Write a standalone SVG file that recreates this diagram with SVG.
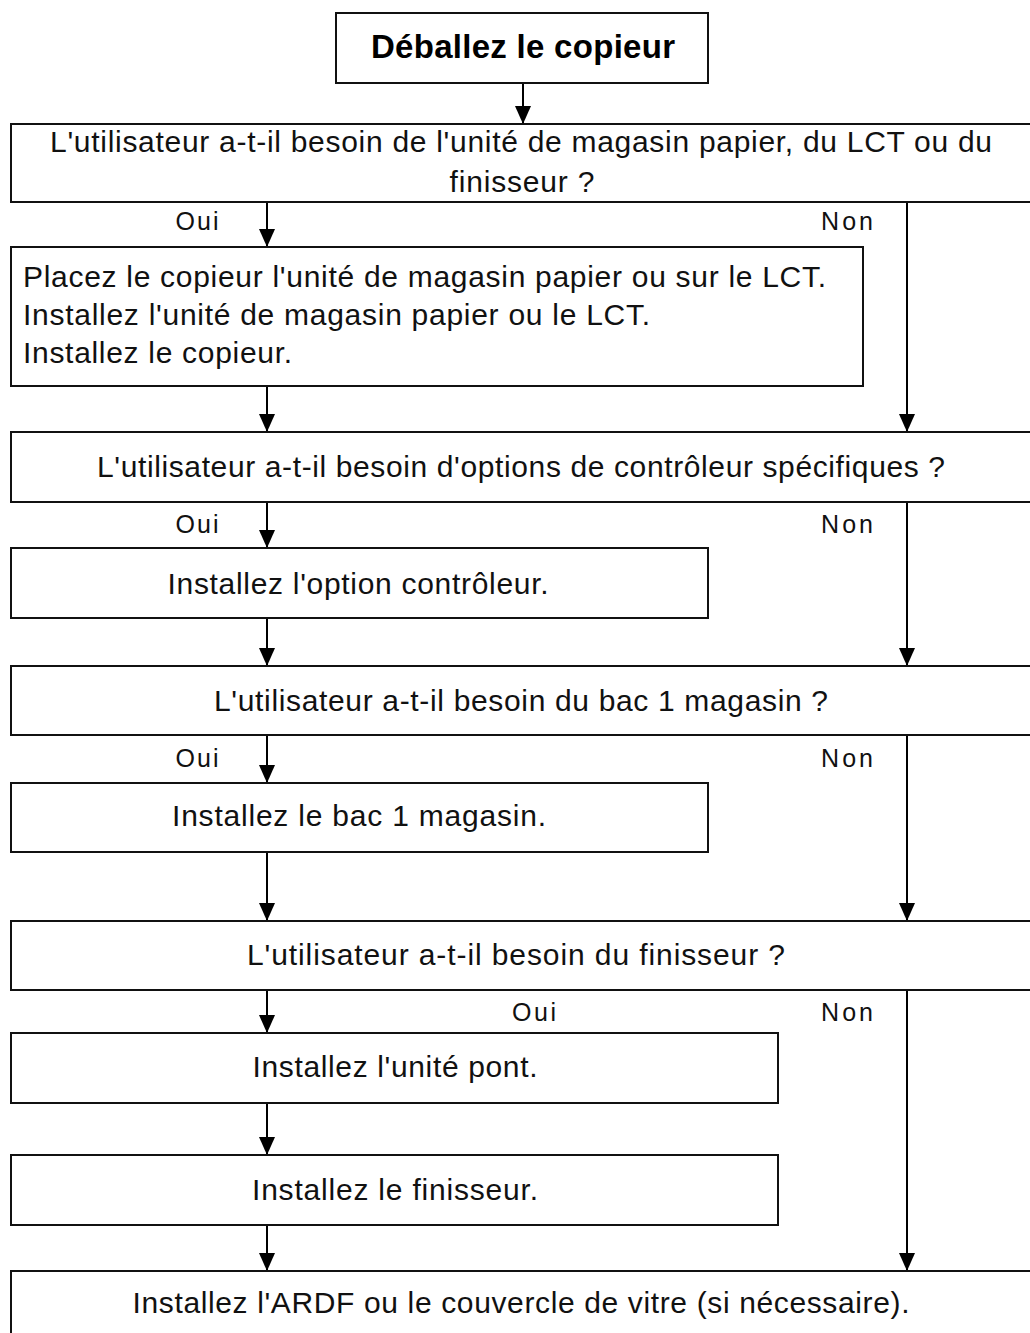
<svg xmlns="http://www.w3.org/2000/svg" width="1030" height="1333" viewBox="0 0 1030 1333">
<defs>
<marker id="arr" markerUnits="userSpaceOnUse" markerWidth="18" markerHeight="16" viewBox="0 0 18 16" refX="18" refY="8" orient="auto">
<path d="M0,0 L18,8 L0,16 z" fill="#000"/>
</marker>
<style>
.box{fill:#fff;stroke:#111;stroke-width:2}
.t{font-family:"Liberation Sans",Arial,sans-serif;font-size:30px;fill:#111;text-anchor:middle}
.tl{font-family:"Liberation Sans",Arial,sans-serif;font-size:30px;fill:#111}
.lab{font-family:"Liberation Sans",Arial,sans-serif;font-size:25px;fill:#111;text-anchor:middle}
.title{font-family:"Liberation Sans",Arial,sans-serif;font-size:33px;font-weight:bold;fill:#000;text-anchor:middle}
.c{stroke:#000;stroke-width:2;fill:none;marker-end:url(#arr)}
</style>
</defs>
<rect width="1030" height="1333" fill="#fff"/>
<g id="connectors">
<line class="c" x1="523" y1="83" x2="523" y2="124"/>
<line class="c" x1="267" y1="202" x2="267" y2="247"/>
<line class="c" x1="907" y1="202" x2="907" y2="432"/>
<line class="c" x1="267" y1="386" x2="267" y2="432"/>
<line class="c" x1="267" y1="502" x2="267" y2="548"/>
<line class="c" x1="907" y1="502" x2="907" y2="666"/>
<line class="c" x1="267" y1="618" x2="267" y2="666"/>
<line class="c" x1="267" y1="735" x2="267" y2="783"/>
<line class="c" x1="907" y1="735" x2="907" y2="921"/>
<line class="c" x1="267" y1="852" x2="267" y2="921"/>
<line class="c" x1="267" y1="990" x2="267" y2="1033"/>
<line class="c" x1="907" y1="990" x2="907" y2="1271"/>
<line class="c" x1="267" y1="1103" x2="267" y2="1155"/>
<line class="c" x1="267" y1="1225" x2="267" y2="1271"/>
<text class="lab" x="197" y="230" textLength="43">Oui</text>
<text class="lab" x="847" y="230" textLength="52">Non</text>
<text class="lab" x="197" y="533" textLength="43">Oui</text>
<text class="lab" x="847" y="533" textLength="52">Non</text>
<text class="lab" x="197" y="767" textLength="43">Oui</text>
<text class="lab" x="847" y="767" textLength="52">Non</text>
<text class="lab" x="534" y="1021" textLength="44">Oui</text>
<text class="lab" x="847" y="1021" textLength="52">Non</text>
</g>
<g id="n0">
<rect class="box" x="336" y="13" width="372" height="70"/>
<text class="title" x="523" y="58" textLength="304">Déballez le copieur</text>
</g>
<g id="n1">
<rect class="box" x="11" y="124" width="1040" height="78"/>
<text class="t" x="521" y="152" textLength="942">L'utilisateur a-t-il besoin de l'unité de magasin papier, du LCT ou du</text>
<text class="t" x="522" y="192" textLength="145">finisseur ?</text>
</g>
<g id="n2">
<rect class="box" x="11" y="247" width="852" height="139"/>
<text class="tl" x="23" y="287" textLength="803">Placez le copieur l'unité de magasin papier ou sur le LCT.</text>
<text class="tl" x="23" y="325" textLength="627">Installez l'unité de magasin papier ou le LCT.</text>
<text class="tl" x="23" y="363" textLength="269">Installez le copieur.</text>
</g>
<g id="n3">
<rect class="box" x="11" y="432" width="1040" height="70"/>
<text class="t" x="521" y="477" textLength="848">L'utilisateur a-t-il besoin d'options de contrôleur spécifiques ?</text>
</g>
<g id="n4">
<rect class="box" x="11" y="548" width="697" height="70"/>
<text class="t" x="358" y="594" textLength="381">Installez l'option contrôleur.</text>
</g>
<g id="n5">
<rect class="box" x="11" y="666" width="1040" height="69"/>
<text class="t" x="521" y="711" textLength="614">L'utilisateur a-t-il besoin du bac 1 magasin ?</text>
</g>
<g id="n6">
<rect class="box" x="11" y="783" width="697" height="69"/>
<text class="t" x="359" y="826" textLength="374">Installez le bac 1 magasin.</text>
</g>
<g id="n7">
<rect class="box" x="11" y="921" width="1040" height="69"/>
<text class="t" x="516" y="965" textLength="538">L'utilisateur a-t-il besoin du finisseur ?</text>
</g>
<g id="n8">
<rect class="box" x="11" y="1033" width="767" height="70"/>
<text class="t" x="395" y="1077" textLength="285">Installez l'unité pont.</text>
</g>
<g id="n9">
<rect class="box" x="11" y="1155" width="767" height="70"/>
<text class="t" x="395" y="1200" textLength="286">Installez le finisseur.</text>
</g>
<g id="n10">
<rect class="box" x="11" y="1271" width="1040" height="80"/>
<text class="t" x="521" y="1313" textLength="777">Installez l'ARDF ou le couvercle de vitre (si nécessaire).</text>
</g>
</svg>
